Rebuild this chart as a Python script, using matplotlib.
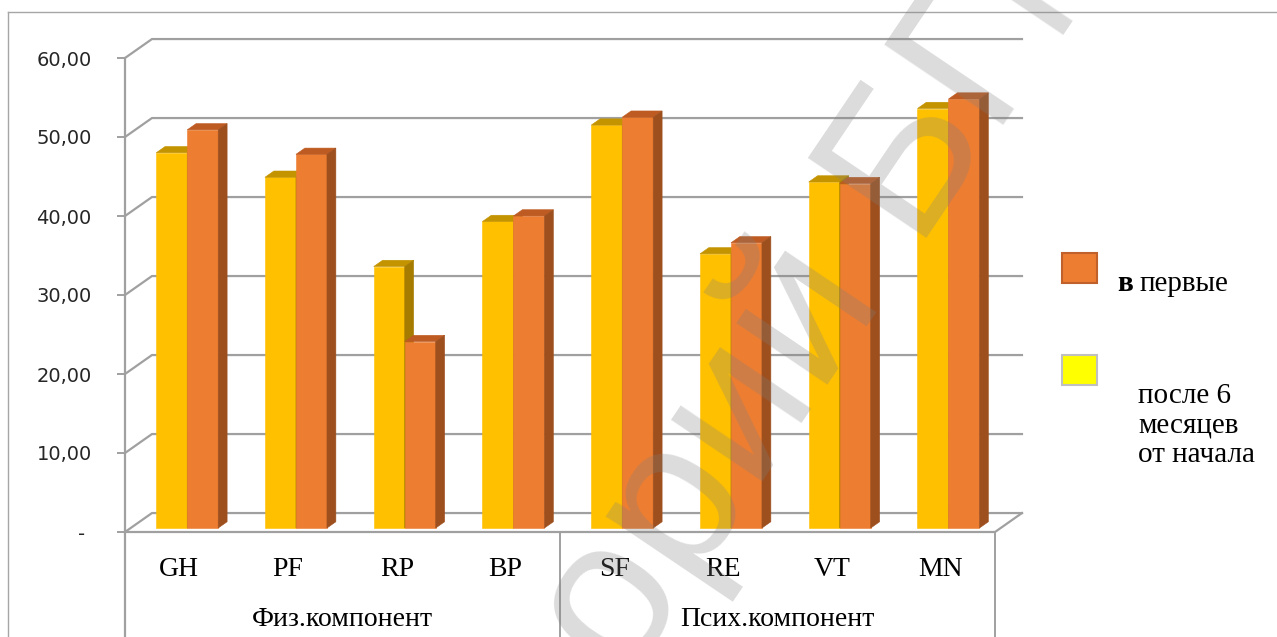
import numpy as np
import matplotlib.pyplot as plt
from matplotlib.patches import Polygon, Rectangle
from matplotlib.lines import Line2D

# data
categories = ['GH', 'PF', 'RP', 'BP', 'SF', 'RE', 'VT', 'MN']
groups = ['Физ.компонент', 'Псих.компонент']
after_6m = [47.5, 44.4, 33.1, 38.8, 51.0, 34.7, 43.8, 53.1]   # после 6 месяцев от начала
first = [50.4, 47.3, 23.6, 39.5, 52.0, 36.1, 43.6, 54.3]      # в первые
yticks = [0, 10, 20, 30, 40, 50, 60]

W, H = 1277, 637
fig = plt.figure(figsize=(W / 100, H / 100), dpi=100)
ax = fig.add_axes([125 / W, (H - 532) / H, 870 / W, 474 / H])
ax.set_xlim(0, 8)
ax.set_ylim(0, 60)
for s in ax.spines.values():
    s.set_visible(False)

# oblique depth offset of the back wall (data units)
DX, DY = 0.248, 2.4
grid_c = '#a0a0a0'


def P(x, v, d):
    return (x + d * DX, v + d * DY)


# back wall gridlines + left side diagonals
for v in yticks:
    ax.plot(*zip(P(0, v, 0), P(0, v, 1), P(8, v, 1)), color=grid_c, lw=1.6,
            clip_on=False, zorder=1, solid_joinstyle='miter')
# floor front edge and right edge
ax.plot(*zip(P(0, 0, 0), P(8, 0, 0), P(8, 0, 1)), color=grid_c, lw=1.6,
        clip_on=False, zorder=1)

# bars
d0, d1 = 0.21, 0.54
bw = 0.285
cols = {
    'y': ('#FFC000', '#C49300', '#A67C00'),
    'o': ('#ED7D31', '#BE5B22', '#9E4F1E'),
}


def bar3d(x0, x1, h, c):
    front, top, side = c
    faces = [
        ([P(x0, 0, d0), P(x1, 0, d0), P(x1, h, d0), P(x0, h, d0)], front),
        ([P(x0, h, d0), P(x1, h, d0), P(x1, h, d1), P(x0, h, d1)], top),
        ([P(x1, 0, d0), P(x1, 0, d1), P(x1, h, d1), P(x1, h, d0)], side),
    ]
    for pts, fc in faces:
        ax.add_patch(Polygon(pts, closed=True, facecolor=fc, edgecolor=fc,
                             lw=0.4, zorder=2, clip_on=False))


for i in range(len(categories)):
    c = i + 0.5 + 0.02
    bar3d(c - bw, c, after_6m[i], cols['y'])
    bar3d(c, c + bw, first[i], cols['o'])

# y axis
ax.set_yticks(yticks)
ax.set_yticklabels(['- '] + ['%d,00' % v for v in yticks[1:]],
                   fontsize=14, color='#262626')
ax.tick_params(axis='y', length=6, width=1.4, color=grid_c, pad=18)
bot = -(H - 532) / 474
ax.add_line(Line2D([0, 0], [bot, 1], transform=ax.transAxes, color=grid_c,
                   lw=1.6, clip_on=False))

# category axis
ax.set_xticks(np.arange(len(categories)) + 0.5)
ax.set_xticklabels(categories, fontsize=20, family='Liberation Serif')
ax.tick_params(axis='x', length=0, pad=18)
for xs in [4, 8]:
    ax.add_line(Line2D([xs / 8, xs / 8], [bot, 0], transform=ax.transAxes,
                       color=grid_c, lw=1.4, clip_on=False))
for k, g in enumerate(groups):
    ax.text(2 + 4 * k, -(620 - 532) / 474 * 60, g, ha='center', va='center',
            fontsize=20, family='Liberation Serif', clip_on=False)

# outer chart frame
fig.add_artist(Line2D([8 / W, 8 / W], [0, 1 - 12 / H], color='#a6a6a6', lw=1))
fig.add_artist(Line2D([8 / W, 1], [1 - 12 / H, 1 - 12 / H], color='#a6a6a6', lw=1))

# legend
fig.add_artist(Rectangle((1062 / W, 1 - 283 / H), 35 / W, 30 / H,
                         facecolor='#ED7D31', edgecolor='#C0602A', lw=1.5))
fig.add_artist(Rectangle((1062 / W, 1 - 385 / H), 35 / W, 30 / H,
                         facecolor='#FFFF00', edgecolor='#C0C0C0', lw=1.5))
fig.text(1117 / W, 1 - 291 / H, 'в', fontsize=21, fontweight='bold',
         family='Liberation Serif', va='baseline')
fig.text(1140 / W, 1 - 291 / H, 'первые', fontsize=21,
         family='Liberation Serif', va='baseline')
for txt, yb in [('после 6', 403), ('месяцев', 433), ('от начала', 462)]:
    fig.text(1138 / W, 1 - yb / H, txt, fontsize=21,
             family='Liberation Serif', va='baseline')

# watermark
fig.text(625 / W, 1 - 685 / H, 'орий БГМУ', rotation=56, rotation_mode='anchor',
         ha='left', va='baseline', fontsize=150, family='Liberation Sans',
         color='#808080', alpha=0.28, zorder=10)

fig.savefig('out.png', dpi=100)
